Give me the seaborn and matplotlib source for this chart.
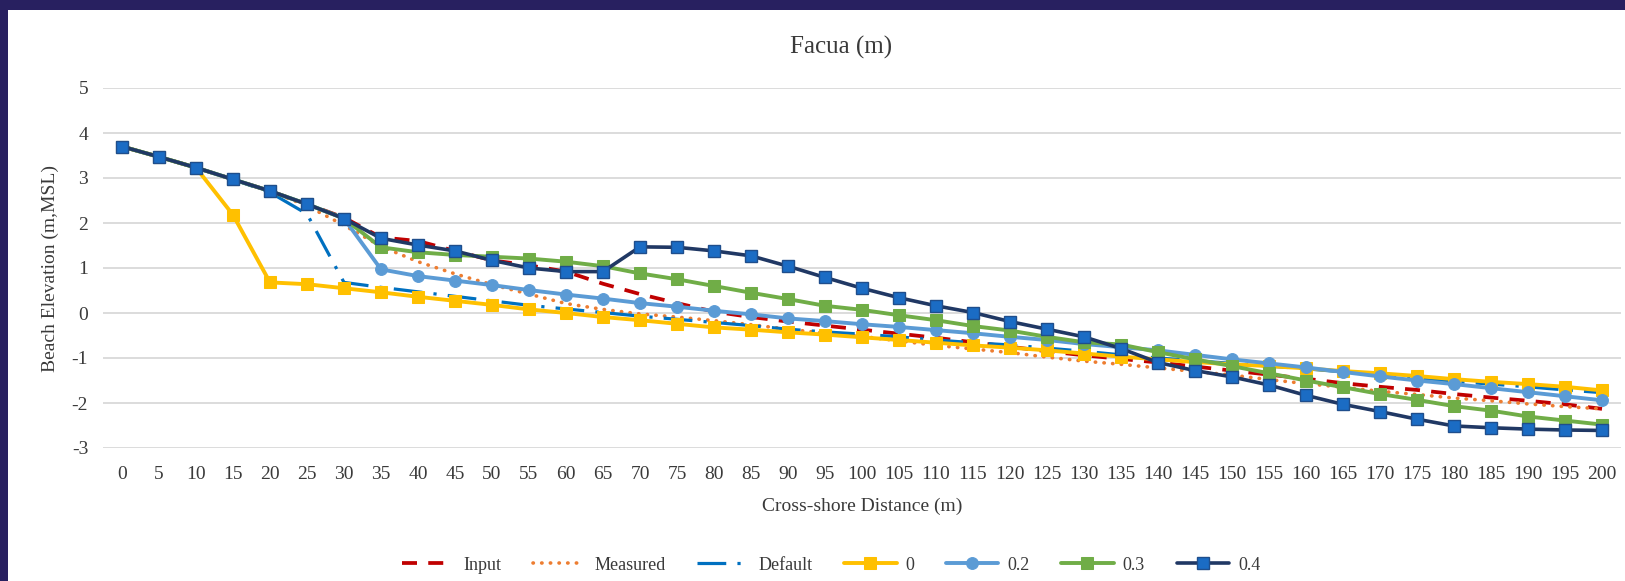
import matplotlib
matplotlib.use("Agg")
import matplotlib.pyplot as plt
from matplotlib.patches import Rectangle
import seaborn as sns
import pandas as pd

# ---------------- data ----------------
distance = list(range(0, 205, 5))
x_tick_labels = [str(d) for d in distance]
y_ticks = [-3, -2, -1, 0, 1, 2, 3, 4, 5]

input_elev = [3.70, 3.47, 3.23, 2.97, 2.71, 2.42, 2.12, 1.68, 1.60, 1.38, 1.17, 1.06, 0.92, 0.65,
              0.42, 0.22, 0.03, -0.09, -0.19, -0.28, -0.37, -0.46, -0.55, -0.65, -0.75, -0.85,
              -0.94, -1.02, -1.10, -1.19, -1.28, -1.37, -1.46, -1.56, -1.64, -1.71, -1.80, -1.88,
              -1.95, -2.03, -2.13]
measured_elev = [3.70, 3.47, 3.23, 2.97, 2.71, 2.38, 1.95, 1.48, 1.14, 0.87, 0.63, 0.42, 0.21, 0.08,
                 -0.02, -0.09, -0.17, -0.26, -0.36, -0.45, -0.52, -0.62, -0.72, -0.80, -0.88, -0.98,
                 -1.07, -1.14, -1.22, -1.30, -1.38, -1.48, -1.57, -1.65, -1.74, -1.81, -1.89, -1.95,
                 -2.02, -2.08, -2.13]
default_elev = [3.70, 3.47, 3.23, 2.97, 2.68, 2.20, 0.68, 0.57, 0.47, 0.37, 0.27, 0.17, 0.09, 0.01,
                -0.07, -0.14, -0.21, -0.28, -0.36, -0.42, -0.47, -0.53, -0.60, -0.66, -0.71, -0.78,
                -0.85, -0.93, -1.00, -1.06, -1.12, -1.18, -1.24, -1.31, -1.38, -1.45, -1.52, -1.58,
                -1.64, -1.71, -1.77]
beta_0 = [3.70, 3.47, 3.23, 2.18, 0.68, 0.64, 0.55, 0.46, 0.36, 0.27, 0.18, 0.08, 0.00, -0.09,
          -0.16, -0.24, -0.32, -0.37, -0.43, -0.48, -0.54, -0.60, -0.66, -0.72, -0.77, -0.83,
          -0.90, -0.97, -1.03, -1.09, -1.14, -1.18, -1.23, -1.29, -1.34, -1.40, -1.47, -1.53,
          -1.58, -1.64, -1.72]
beta_02 = [3.70, 3.47, 3.23, 2.97, 2.71, 2.42, 2.10, 0.97, 0.82, 0.72, 0.62, 0.51, 0.41, 0.32,
           0.22, 0.14, 0.05, -0.03, -0.12, -0.18, -0.25, -0.31, -0.38, -0.45, -0.53, -0.60,
           -0.69, -0.76, -0.83, -0.93, -1.03, -1.12, -1.21, -1.31, -1.41, -1.50, -1.58, -1.67,
           -1.76, -1.85, -1.94]
beta_03 = [3.70, 3.47, 3.23, 2.97, 2.71, 2.42, 2.10, 1.46, 1.35, 1.29, 1.25, 1.21, 1.14, 1.04,
           0.88, 0.75, 0.60, 0.45, 0.31, 0.16, 0.07, -0.05, -0.16, -0.29, -0.39, -0.53,
           -0.65, -0.70, -0.87, -1.03, -1.18, -1.34, -1.50, -1.65, -1.80, -1.93, -2.07, -2.17,
           -2.30, -2.39, -2.48]
beta_04 = [3.70, 3.47, 3.23, 2.97, 2.71, 2.42, 2.10, 1.66, 1.51, 1.38, 1.17, 1.00, 0.92, 0.92,
           1.47, 1.46, 1.38, 1.27, 1.04, 0.79, 0.55, 0.34, 0.16, 0.01, -0.19, -0.36,
           -0.53, -0.79, -1.10, -1.28, -1.42, -1.60, -1.83, -2.03, -2.19, -2.36, -2.51, -2.55,
           -2.58, -2.60, -2.61]

df = pd.DataFrame({
    "distance": distance,
    "Input": input_elev,
    "Measured": measured_elev,
    "Default": default_elev,
    "0": beta_0,
    "0.2": beta_02,
    "0.3": beta_03,
    "0.4": beta_04,
})

# ---------------- style ----------------
sns.set_theme(style="white")
plt.rcParams["font.family"] = ["Liberation Serif", "DejaVu Serif"]
plt.rcParams["axes.unicode_minus"] = False

TEXT = "#3a3a3a"
W, H = 1625, 581
fig = plt.figure(figsize=(W / 100, H / 100), dpi=100)
fig.patch.set_facecolor("#282060")
fig.add_artist(Rectangle((8 / W, 0), 1, 1 - 10 / H, transform=fig.transFigure,
                         facecolor="white", edgecolor="none", zorder=0))

ax_left, ax_right = 103.5 / W, 1620.5 / W
ax_top, ax_bot = 1 - 88 / H, 1 - 448 / H
ax = fig.add_axes([ax_left, ax_bot, ax_right - ax_left, ax_top - ax_bot])
ax.set_facecolor("white")

styles = [
    ("Input", dict(color="#C00000", linewidth=2.7, linestyle=(0, (4, 3)))),
    ("Measured", dict(color="#ED7D31", linewidth=2.6, linestyle=(0, (0.1, 2.3)),
                      dash_capstyle="round")),
    ("Default", dict(color="#0070C0", linewidth=2.3, linestyle=(0, (9, 3.5, 1, 3.5)))),
    ("0", dict(color="#FFC000", linewidth=2.8, marker="s", markersize=8,
               markerfacecolor="#FFC000", markeredgecolor="#FFC000")),
    ("0.2", dict(color="#5B9BD5", linewidth=2.8, marker="o", markersize=8.5,
                 markerfacecolor="#5B9BD5", markeredgecolor="#5B9BD5")),
    ("0.3", dict(color="#70AD47", linewidth=2.8, marker="s", markersize=8,
                 markerfacecolor="#70AD47", markeredgecolor="#70AD47")),
    ("0.4", dict(color="#203864", linewidth=2.6, marker="s", markersize=8,
                 markerfacecolor="#1B6CC4", markeredgecolor="#1F4E8C", markeredgewidth=1)),
]

for i, (name, kw) in enumerate(styles):
    sns.lineplot(data=df, x="distance", y=name, ax=ax, label=name, legend=False,
                 zorder=3 + i, **kw)

ax.set_xlim(-2.5, 202.5)
ax.set_ylim(-3, 5)
ax.set_xticks(distance)
ax.set_xticklabels(x_tick_labels)
ax.set_yticks(y_ticks)
ax.set_yticklabels([str(v) for v in y_ticks])
ax.grid(axis="y", color="#D9D9D9", linewidth=1.3)
ax.grid(axis="x", visible=False)
ax.set_axisbelow(True)
for s in ax.spines.values():
    s.set_visible(False)
ax.tick_params(axis="both", length=0, labelsize=14, colors=TEXT)
ax.tick_params(axis="y", pad=11)
ax.tick_params(axis="x", pad=13)
ax.set_xlabel("")
ax.set_ylabel("")

fig.text(841 / W, 1 - 47 / H, "Facua (m)", ha="center", va="center", fontsize=18, color=TEXT)
fig.text(862 / W, 1 - 506 / H, "Cross-shore Distance (m)", ha="center", va="center",
         fontsize=14, color=TEXT)
fig.text(50 / W, 1 - 269 / H, "Beach Elevation (m,MSL)", ha="center", va="center",
         rotation=90, fontsize=14, color=TEXT)

handles, labels = ax.get_legend_handles_labels()
leg = fig.legend(handles, labels, loc="center", bbox_to_anchor=(831 / W, 1 - 565 / H),
                 ncol=7, frameon=False, fontsize=13, handlelength=2.9,
                 handletextpad=0.5, columnspacing=1.75, numpoints=1)
for t in leg.get_texts():
    t.set_color(TEXT)

fig.savefig("out.png", dpi=100, facecolor=fig.get_facecolor())
